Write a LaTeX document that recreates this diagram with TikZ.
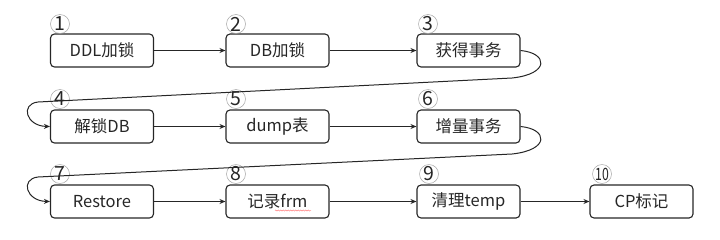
\documentclass[tikz,border=0pt]{standalone}
\usepackage{fontspec}
\setmainfont{Noto Sans CJK SC}
\usetikzlibrary{arrows.meta,decorations.pathmorphing}
\begin{document}
\begin{tikzpicture}[x=1pt,y=-1pt,
 box/.style={draw=black!85, line width=1.1pt, rounded corners=4pt, minimum width=103pt, minimum height=33pt, inner sep=0pt, font=\fontsize{16.5}{18}\selectfont, text=black!85},
 num/.style={circle, draw=black!35, line width=0.5pt, minimum size=19pt, inner sep=0pt, font=\fontsize{19.5}{19.5}\selectfont, text=black!85},
 arr/.style={draw=black!85, line width=1pt, -{Stealth[length=6pt,width=5pt]}},
]
\useasboundingbox (0,0) rectangle (720,239);
% row 1
\node[box] (b1) at (102,50.5) {DDL加锁};
\node[box] (b2) at (277.5,50.5) {DB加锁};
\node[box] (b3) at (468.5,50.5) {获得事务};
% row 2
\node[box] (b4) at (102,126.5) {解锁DB};
\node[box] (b5) at (277.5,126.5) {dump表};
\node[box] (b6) at (468.5,126.5) {增量事务};
% row 3
\node[box] (b7) at (102,201.5) {Restore};
\node[box] (b8) at (277.5,201.5) {记录frm};
\node[box] (b9) at (468.5,201.5) {清理temp};
\node[box] (b10) at (641.5,201.5) {CP标记};
% numbers
\node[num] (n1) at (60,24) {1};
\node[num] (n2) at (236,24) {2};
\node[num] (n3) at (428,24) {3};
\node[num] (n4) at (60,99) {4};
\node[num] (n5) at (236,99) {5};
\node[num] (n6) at (428,99) {6};
\node[num] (n7) at (60,174) {7};
\node[num] (n8) at (236,174) {8};
\node[num] (n9) at (429,174) {9};
\node[num, font=\fontsize{17}{17}\selectfont] (n10) at (602,174) {\scalebox{0.72}[1]{10}};
% straight arrows
\draw[arr] (b1) -- (b2);
\draw[arr] (b2) -- (b3);
\draw[arr] (b4) -- (b5);
\draw[arr] (b5) -- (b6);
\draw[arr] (b7) -- (b8);
\draw[arr] (b8) -- (b9);
\draw[arr] (b9) -- (b10);
% wrap-around arrows
\coordinate (r1) at (512,78);
\coordinate (l1) at (38,102);
\draw[arr] (b3.east) .. controls (548,53) and (550,74) .. (r1) -- (l1) .. controls (20,104) and (26,126) .. (b4.west);
\coordinate (r2) at (512,154);
\coordinate (l2) at (38,177);
\draw[arr] (b6.east) .. controls (548,129) and (550,150) .. (r2) -- (l2) .. controls (20,179) and (26,201) .. (b7.west);
% spell-check underline
\draw[red!60, line width=0.4pt, decorate, decoration={snake, amplitude=0.6pt, segment length=2.5pt}] (275,210.5) -- (311,210.5);
\end{tikzpicture}
\end{document}
